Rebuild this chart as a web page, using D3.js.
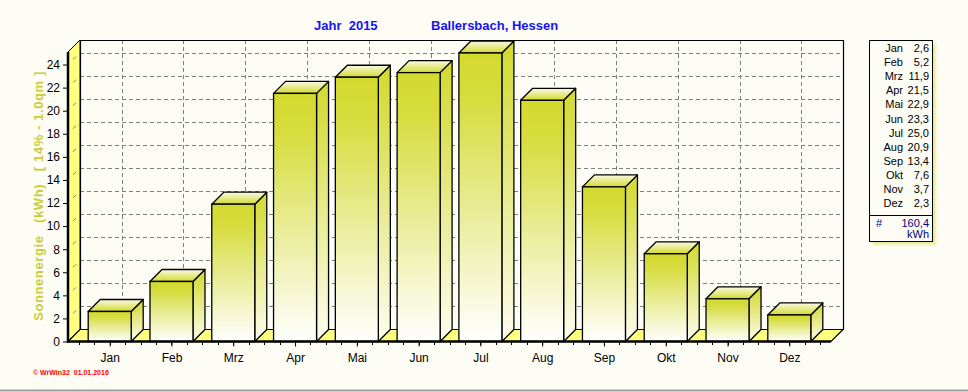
<!DOCTYPE html>
<html><head><meta charset="utf-8">
<script src="https://cdn.jsdelivr.net/npm/d3@7/dist/d3.min.js"></script>
<style>
html,body{margin:0;padding:0;background:#fdfdf5;}
svg{display:block;font-family:"Liberation Sans",Arial,sans-serif;}
</style></head>
<body>
<svg id="chart" width="968" height="392"></svg>
<script>
const months = ["Jan","Feb","Mrz","Apr","Mai","Jun","Jul","Aug","Sep","Okt","Nov","Dez"];
const values = [2.6,5.2,11.9,21.5,22.9,23.3,25.0,20.9,13.4,7.6,3.7,2.3];
const yTicks = [0,2,4,6,8,10,12,14,16,18,20,22,24];
const totalLabel = "160,4";
const unitLabel = "kWh";
const titleLeft = "Jahr  2015";
const titleRight = "Ballersbach, Hessen";
const yTitle = "Sonnenergie   (kWh)   [ 14% - 1.0qm ]";
const footer = "\u00A9 WrWin32  01.01.2016";

const svg = d3.select("#chart");
const X0 = 68, X1 = 831, D = 12, TOP = 52;
const x = d3.scalePoint().domain(months).range([X0, X1]).padding(0.675);
const y = d3.scaleLinear().domain([0, 25]).range([341.5, 53]);
const Y0 = y(0);
const bw = 43;
const fmt = v => d3.format(".1f")(v).replace(".", ",");

svg.append("rect").attr("width",968).attr("height",392).attr("fill","#fdfdf5");
svg.append("line").attr("x1",0).attr("x2",968).attr("y1",390.5).attr("y2",390.5).attr("stroke","#a0a0a0").attr("stroke-width",2);

const defs = svg.append("defs");
function grad(id, stops){
  const g = defs.append("linearGradient").attr("id",id).attr("x1",0).attr("y1",0).attr("x2",0).attr("y2",1);
  stops.forEach(s=>g.append("stop").attr("offset",s[0]).attr("stop-color",s[1]));
}
grad("gFront",[[0,"#d3da2e"],[0.15,"#d6dc3c"],[1,"#ffffff"]]);
grad("gSide",[[0,"#d3da2e"],[0.2,"#dadf50"],[1,"#fdfdf0"]]);
grad("gTop",[[0,"#fbfbe6"],[0.5,"#e6ea88"],[1,"#d3da2e"]]);
const f = defs.append("filter").attr("id","blur").attr("x","-20%").attr("y","-20%").attr("width","140%").attr("height","140%");
f.append("feGaussianBlur").attr("stdDeviation",1.5);

// back wall
const gw = svg.append("g");
gw.append("rect").attr("x",X0+D).attr("y",TOP-D).attr("width",X1-X0).attr("height",Y0-D-(TOP-D)).attr("fill","#fdfdf5");
// horizontal gridlines
gw.selectAll("line.h").data(yTicks.filter(t=>t>0)).join("line")
  .attr("x1",X0+D).attr("x2",X1+D).attr("y1",t=>Math.round(y(t)-D)+0.5).attr("y2",t=>Math.round(y(t)-D)+0.5)
  .attr("stroke","#808080").attr("stroke-dasharray","4,3");
// vertical gridlines
gw.selectAll("line.v").data(months).join("line")
  .attr("x1",m=>Math.round(x(m)+D)+0.5).attr("x2",m=>Math.round(x(m)+D)+0.5)
  .attr("y1",TOP-D).attr("y2",Y0-D)
  .attr("stroke","#808080").attr("stroke-dasharray","4,3");
// back wall outline
gw.append("path").attr("d",`M${X0+D+0.5},${Y0-D} L${X0+D+0.5},${TOP-D+0.5} L${X1+D+0.5},${TOP-D+0.5} L${X1+D+0.5},${Y0-D}`)
  .attr("fill","none").attr("stroke","#000").attr("stroke-width",1.2);
// left side wall
gw.append("path").attr("d",`M${X0},${Y0} L${X0},${TOP} L${X0+D},${TOP-D} L${X0+D},${Y0-D} Z`)
  .attr("fill","#ffff80").attr("stroke","#000").attr("stroke-width",1);
// side wall tick marks
gw.selectAll("line.s").data(yTicks.filter(t=>t>0)).join("line")
  .attr("x1",X0+5).attr("x2",X0+8).attr("y1",t=>y(t)-5).attr("y2",t=>y(t)-8)
  .attr("stroke","#808080").attr("stroke-width",1);
// floor
gw.append("path").attr("d",`M${X0},${Y0} L${X0+D},${Y0-D} L${X1+D},${Y0-D} L${X1},${Y0} Z`)
  .attr("fill","#ffff80").attr("stroke","#000").attr("stroke-width",1.2);

// bars
const gb = svg.append("g");
months.forEach((m,i)=>{
  const v = values[i];
  const xl = x(m)-bw/2, xr = x(m)+bw/2, yt = y(v);
  const g = gb.append("g");
  g.append("path").attr("d",`M${xr},${yt} L${xr+D},${yt-D} L${xr+D},${Y0-D} L${xr},${Y0} Z`)
    .attr("fill","url(#gSide)").attr("stroke","#000").attr("stroke-width",1.3).attr("stroke-linejoin","round");
  g.append("path").attr("d",`M${xl},${yt} L${xl+D},${yt-D} L${xr+D},${yt-D} L${xr},${yt} Z`)
    .attr("fill","url(#gTop)").attr("stroke","#000").attr("stroke-width",1.3).attr("stroke-linejoin","round");
  g.append("rect").attr("x",xl).attr("y",yt).attr("width",bw).attr("height",Y0-yt)
    .attr("fill","url(#gFront)").attr("stroke","#000").attr("stroke-width",1.3);
});

// axes lines
svg.append("line").attr("x1",X0).attr("x2",X0).attr("y1",TOP).attr("y2",Y0+1).attr("stroke","#000").attr("stroke-width",2.5);
svg.append("line").attr("x1",X0-1).attr("x2",X1).attr("y1",Y0).attr("y2",Y0).attr("stroke","#000").attr("stroke-width",2.5);

// y axis ticks and labels
const ya = svg.append("g").attr("transform",`translate(${X0-1},0)`)
  .call(d3.axisLeft(y).tickValues(yTicks).tickSize(4).tickPadding(3).tickFormat(d3.format("d")));
ya.select(".domain").remove();
ya.selectAll("text").attr("font-size",12).attr("font-family","'Liberation Sans',Arial,sans-serif").attr("fill","#000");
ya.selectAll("line").attr("stroke","#000");

// x axis ticks
const step = x.step();
const minor = [];
for (let k=-2; k<=months.length*4-2; k++){ minor.push(x(months[0]) + k*step/4); }
svg.append("g").selectAll("line").data(minor.filter(v=>v>X0+2 && v<X1)).join("line")
  .attr("x1",d=>Math.round(d)+0.5).attr("x2",d=>Math.round(d)+0.5).attr("y1",Y0).attr("y2",Y0+3.5)
  .attr("stroke","#000");
const xa = svg.append("g").attr("transform",`translate(0,${Y0+1})`)
  .call(d3.axisBottom(x).tickSize(4).tickPadding(7));
xa.select(".domain").remove();
xa.selectAll("text").attr("font-size",12).attr("font-family","'Liberation Sans',Arial,sans-serif").attr("fill","#000");

// titles
svg.append("text").attr("x",314).attr("y",30).attr("font-size",13).attr("font-weight","bold").attr("fill","#1414f5").attr("xml:space","preserve").style("white-space","pre").text(titleLeft);
svg.append("text").attr("x",431).attr("y",30).attr("font-size",13).attr("font-weight","bold").attr("fill","#1414f5").text(titleRight);

// y axis title
svg.append("text").attr("transform","translate(43,196) rotate(-90)").attr("text-anchor","middle")
  .attr("font-size",13).attr("font-weight","bold").attr("fill","#cccc3a").style("white-space","pre")
  .attr("letter-spacing",0.6).text(yTitle);

// footer
svg.append("text").attr("x",33).attr("y",375).attr("font-size",7).attr("font-weight","bold").attr("fill","#ff0000").style("white-space","pre").text(footer);

// legend
const lg = svg.append("g");
lg.append("rect").attr("x",872.5).attr("y",43.5).attr("width",63).attr("height",201).attr("fill","#e8e890").attr("filter","url(#blur)");
lg.append("rect").attr("x",869.5).attr("y",40.5).attr("width",63).attr("height",201).attr("fill","#fdfdf5").attr("stroke","#000");
lg.append("line").attr("x1",869.5).attr("x2",932.5).attr("y1",215.5).attr("y2",215.5).attr("stroke","#000");
months.forEach((m,i)=>{
  const yy = 52.3 + i*14.04;
  lg.append("text").attr("x",903).attr("y",yy).attr("text-anchor","end").attr("font-size",11).text(m);
  lg.append("text").attr("x",929).attr("y",yy).attr("text-anchor","end").attr("font-size",11).text(fmt(values[i]));
});
lg.append("text").attr("x",876).attr("y",227).attr("font-size",11).attr("fill","#000080").text("#");
lg.append("text").attr("x",929).attr("y",227).attr("text-anchor","end").attr("font-size",11).attr("fill","#000080").text(totalLabel);
lg.append("text").attr("x",929).attr("y",238).attr("text-anchor","end").attr("font-size",11).attr("fill","#000080").text(unitLabel);
</script>
</body></html>
